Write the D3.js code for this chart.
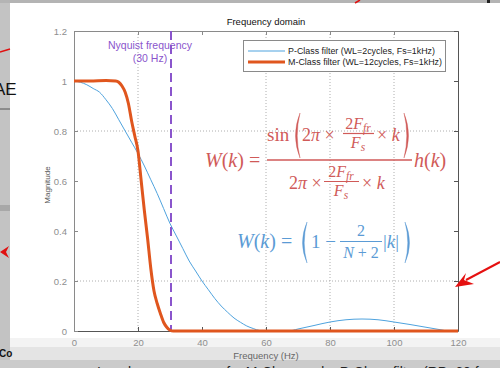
<!DOCTYPE html>
<html>
<head>
<meta charset="utf-8">
<script src="https://cdn.jsdelivr.net/npm/d3@7"></script>
<style>
  body { margin: 0; background: #cfcfcf; }
  svg { display: block; font-family: "Liberation Sans", Arial, sans-serif; }
  .eq { font-family: "Liberation Serif", "DejaVu Serif", serif; }
</style>
</head>
<body>
<div class="svg-container"></div>
<script>
var width = 500;
var height = 368;

// M-class filter (orange) magnitude response
var mFreq = [0, 5, 10, 13, 14, 15, 16, 17, 18, 19, 20, 21, 22, 23, 24, 25, 26, 27, 28, 29, 30, 31, 40, 60, 80, 100, 120];
var mMag  = [1, 1, 1.002, 1, 0.995, 0.98, 0.955, 0.91, 0.84, 0.78, 0.72, 0.6, 0.48, 0.37, 0.25, 0.16, 0.11, 0.07, 0.035, 0.015, 0.003, 0, 0, 0, 0, 0, 0];

// P-class filter (blue) magnitude response
var pFreq = [0, 2, 4, 6, 8, 10, 12, 14, 16, 18, 20, 22, 24, 26, 28, 30, 32, 34, 36, 38, 40, 42, 44, 46, 48, 50, 52, 54, 56, 58, 62, 67, 70, 75, 80, 85, 90, 95, 100, 105, 110, 115, 117, 120];
var pMag  = [1, 0.995, 0.985, 0.97, 0.955, 0.925, 0.89, 0.845, 0.8, 0.755, 0.71, 0.66, 0.605, 0.55, 0.49, 0.43, 0.38, 0.33, 0.28, 0.24, 0.2, 0.165, 0.13, 0.1, 0.075, 0.052, 0.035, 0.02, 0.01, 0.002, 0, 0, 0.008, 0.022, 0.036, 0.045, 0.048, 0.045, 0.036, 0.026, 0.015, 0.004, 0, 0];

var xTicks = [0, 20, 40, 60, 80, 100, 120];
var yTicks = [0, 0.2, 0.4, 0.6, 0.8, 1, 1.2];
var xGrid = [20, 60, 80, 100];
var yGrid = [0.2, 0.8];
var nyquist = 30;
var legendLabels = ["P-Class filter (WL=2cycles, Fs=1kHz)", "M-Class filter (WL=12cycles, Fs=1kHz)"];

var red = "#d05a58", blue = "#5b9bd5", purple = "#8a55cc";

var svg = d3.select(".svg-container")
    .append("svg")
    .attr("width", width)
    .attr("height", height);

// --- slide screenshot surroundings ---
svg.append("rect").attr("x", 0).attr("y", 0).attr("width", 10).attr("height", height).attr("fill", "#c3c3c3");
svg.append("rect").attr("x", 0).attr("y", 0).attr("width", width).attr("height", 3).attr("fill", "#b4b4b4");
svg.append("rect").attr("x", 10).attr("y", 3).attr("width", 490).attr("height", 335).attr("fill", "#ffffff");
svg.append("rect").attr("x", 10).attr("y", 338).attr("width", 490).attr("height", 9).attr("fill", "#f3f3f3");
svg.append("rect").attr("x", 10).attr("y", 347).attr("width", 490).attr("height", 13).attr("fill", "#e4e4e4");
svg.append("rect").attr("x", 0).attr("y", 360).attr("width", width).attr("height", 8).attr("fill", "#cbcbcb");
svg.append("rect").attr("x", 0).attr("y", 205).attr("width", 10).attr("height", 6).attr("fill", "#a8a8a8");
svg.append("line").attr("x1", 0).attr("x2", 10).attr("y1", 109).attr("y2", 109).attr("stroke", "#555").attr("stroke-width", 1);
svg.append("line").attr("x1", 0).attr("x2", 10).attr("y1", 52).attr("y2", 49).attr("stroke", "#e01010").attr("stroke-width", 1.5);
svg.append("path").attr("d", "M0,252 L9,246 L6,252 L9,258 Z").attr("fill", "#e01010");
svg.append("text").attr("x", -6).attr("y", 95).attr("font-size", 17).attr("fill", "#111").text("AE");
svg.append("text").attr("x", -1).attr("y", 357).attr("font-size", 10).attr("font-weight", "bold").attr("fill", "#111").text("Co");
svg.append("line").attr("x1", 355).attr("x2", 360).attr("y1", 3).attr("y2", 0).attr("stroke", "#e01010").attr("stroke-width", 1.5);
svg.append("rect").attr("x", 487).attr("y", 0).attr("width", 3).attr("height", 3).attr("fill", "#222");
svg.append("text").attr("x", 97).attr("y", 377).attr("font-size", 14).attr("fill", "#222")
    .text("Impulse responses of a M-Class and a P-Class filter (RP=60 frames/s)");

// --- scales ---
var x = d3.scaleLinear().domain([0, 120]).range([74, 458]);
var y = d3.scaleLinear().domain([0, 1.2]).range([331, 31]);

// grid
svg.selectAll(".gx").data(xGrid).enter().append("line")
    .attr("x1", function(d) { return x(d); }).attr("x2", function(d) { return x(d); })
    .attr("y1", y(1.2)).attr("y2", y(0))
    .attr("stroke", "#9a9a9a").attr("stroke-width", 0.8).attr("stroke-dasharray", "1,2");
svg.selectAll(".gy").data(yGrid).enter().append("line")
    .attr("x1", x(0)).attr("x2", x(120))
    .attr("y1", function(d) { return y(d); }).attr("y2", function(d) { return y(d); })
    .attr("stroke", "#9a9a9a").attr("stroke-width", 0.8).attr("stroke-dasharray", "1,2");

// axes
function styleAxis(g, col) {
    g.select(".domain").attr("stroke", col);
    g.selectAll(".tick line").attr("stroke", col);
    g.selectAll(".tick text").attr("fill", "#8e8e8e").attr("font-size", 9.5)
        .attr("font-family", "Liberation Sans, Arial, sans-serif");
}
svg.append("g").attr("transform", "translate(0," + y(0) + ")")
    .call(d3.axisBottom(x).tickValues(xTicks).tickSizeInner(-4).tickSizeOuter(0).tickPadding(8))
    .call(styleAxis, "#555");
svg.append("g").attr("transform", "translate(" + x(0) + ",0)")
    .call(d3.axisLeft(y).tickValues(yTicks).tickFormat(d3.format("~g")).tickSizeInner(-4).tickSizeOuter(0).tickPadding(7))
    .call(styleAxis, "#8a8a8a");
svg.append("g").attr("transform", "translate(0," + y(1.2) + ")")
    .call(d3.axisTop(x).tickValues(xTicks).tickFormat("").tickSizeInner(-4).tickSizeOuter(0))
    .call(styleAxis, "#8a8a8a");
svg.append("g").attr("transform", "translate(" + x(120) + ",0)")
    .call(d3.axisRight(y).tickValues(yTicks).tickFormat("").tickSizeInner(-4).tickSizeOuter(0))
    .call(styleAxis, "#555");

// labels
svg.append("text").attr("x", 266).attr("y", 25).attr("text-anchor", "middle")
    .attr("font-size", 9.5).attr("fill", "#111").text("Frequency domain");
svg.append("text").attr("x", 266).attr("y", 359).attr("text-anchor", "middle")
    .attr("font-size", 9.5).attr("fill", "#666").text("Frequency (Hz)");
svg.append("text").attr("transform", "rotate(270)").attr("x", -185).attr("y", 50)
    .attr("text-anchor", "middle").attr("font-size", 8).attr("fill", "#555").text("Magnitude");

// curves
var mData = mFreq.map(function(f, i) { return [f, mMag[i]]; });
var pData = pFreq.map(function(f, i) { return [f, pMag[i]]; });
var line = d3.line()
    .x(function(d) { return x(d[0]); })
    .y(function(d) { return y(d[1]); })
    .curve(d3.curveMonotoneX);

svg.append("path").datum(pData).attr("d", line)
    .attr("fill", "none").attr("stroke", "#4fa3de").attr("stroke-width", 1);

// nyquist line
svg.append("line").attr("x1", x(nyquist) + 1).attr("x2", x(nyquist) + 1)
    .attr("y1", y(1.2)).attr("y2", y(0))
    .attr("stroke", purple).attr("stroke-width", 2).attr("stroke-dasharray", "9,5");
svg.append("text").attr("x", 150).attr("y", 49).attr("text-anchor", "middle")
    .attr("font-size", 10.5).attr("fill", purple).text("Nyquist frequency");
svg.append("text").attr("x", 150).attr("y", 62).attr("text-anchor", "middle")
    .attr("font-size", 10.5).attr("fill", purple).text("(30 Hz)");

svg.append("path").datum(mData).attr("d", line)
    .attr("fill", "none").attr("stroke", "#e0561e").attr("stroke-width", 3)
    .attr("stroke-linejoin", "round");

// legend
var legend = svg.append("g");
legend.append("rect").attr("x", 243.5).attr("y", 40.5).attr("width", 202).attr("height", 31)
    .attr("fill", "#fff").attr("stroke", "#8a8a8a").attr("stroke-width", 1);
var legColors = ["#4fa3de", "#e0561e"], legWidths = [1, 3];
legendLabels.forEach(function(t, i) {
    var ly = 51 + i * 11;
    legend.append("line").attr("x1", 248).attr("x2", 285).attr("y1", ly).attr("y2", ly)
        .attr("stroke", legColors[i]).attr("stroke-width", legWidths[i]);
    legend.append("text").attr("x", 288).attr("y", ly + 3).attr("font-size", 8.5).attr("fill", "#222")
        .attr("textLength", i === 0 ? 147 : 154).attr("lengthAdjust", "spacingAndGlyphs").text(t);
});

// --- equations ---
function paren(g, xa, xb, top, bot, left, col) {
    var mid = (top + bot) / 2;
    var d = left
        ? "M" + xb + "," + top + " Q" + (xa - 2) + "," + mid + " " + xb + "," + bot + " Q" + (xa + 1.5) + "," + mid + " " + xb + "," + top + "Z"
        : "M" + xa + "," + top + " Q" + (xb + 2) + "," + mid + " " + xa + "," + bot + " Q" + (xb - 1.5) + "," + mid + " " + xa + "," + top + "Z";
    g.append("path").attr("d", d).attr("fill", col).attr("stroke", col).attr("stroke-width", 0.4);
}
function mtext(g, xx, yy, size, parts, col, anchor) {
    var t = g.append("text").attr("class", "eq").attr("x", xx).attr("y", yy)
        .attr("font-size", size).attr("fill", col).attr("text-anchor", anchor || "start");
    parts.forEach(function(p) {
        var s = t.append("tspan").text(p[0]);
        if (p[1] === "i") s.attr("font-style", "italic");
        if (p[1] === "sub") s.attr("font-style", "italic").attr("font-size", size * 0.72).attr("dy", 3);
    });
    return t;
}
function fracF(g, cx, yNum, yBar, yDen, x1, x2, size, col) {
    mtext(g, cx, yNum, size, [["2", ""], ["F", "i"], ["fr", "sub"]], col, "middle");
    g.append("line").attr("x1", x1).attr("x2", x2).attr("y1", yBar).attr("y2", yBar)
        .attr("stroke", col).attr("stroke-width", 1.2);
    mtext(g, cx, yDen, size, [["F", "i"], ["s", "sub"]], col, "middle");
}

var eqR = svg.append("g");
mtext(eqR, 205, 167, 20, [["W", "i"], ["(", ""], ["k", "i"], [") =", ""]], red);
mtext(eqR, 267, 141, 19, [["sin", ""]], red);
paren(eqR, 293, 300, 113, 158, true, red);
mtext(eqR, 302, 141, 18, [["2", ""], ["π", "i"], [" ×", ""]], red);
fracF(eqR, 358, 129, 133.5, 148, 343, 374, 16, red);
mtext(eqR, 377, 141, 18, [["× ", ""], ["k", "i"]], red);
paren(eqR, 404, 411, 113, 158, false, red);
eqR.append("line").attr("x1", 267).attr("x2", 412).attr("y1", 160).attr("y2", 160)
    .attr("stroke", red).attr("stroke-width", 1.6);
mtext(eqR, 289, 189, 18, [["2", ""], ["π", "i"], [" ×", ""]], red);
fracF(eqR, 341, 177, 181.5, 196, 324, 359, 16, red);
mtext(eqR, 362, 189, 18, [["× ", ""], ["k", "i"]], red);
mtext(eqR, 414, 167, 20, [["h", "i"], ["(", ""], ["k", "i"], [")", ""]], red);

var eqB = svg.append("g");
mtext(eqB, 237, 248, 20, [["W", "i"], ["(", ""], ["k", "i"], [") =", ""]], blue);
paren(eqB, 300, 307, 222, 263, true, blue);
mtext(eqB, 311, 248, 19, [["1 −", ""]], blue);
mtext(eqB, 361, 236, 16, [["2", ""]], blue, "middle");
eqB.append("line").attr("x1", 340).attr("x2", 382).attr("y1", 241.5).attr("y2", 241.5)
    .attr("stroke", blue).attr("stroke-width", 1.2);
mtext(eqB, 361, 258, 16, [["N", "i"], [" + 2", ""]], blue, "middle");
mtext(eqB, 383, 248, 19, [["|", ""], ["k", "i"], ["|", ""]], blue);
paren(eqB, 405, 412, 222, 263, false, blue);

// right red arrow
svg.append("line").attr("x1", 500).attr("x2", 466).attr("y1", 262).attr("y2", 280)
    .attr("stroke", "#e51010").attr("stroke-width", 2);
svg.append("path").attr("d", "M455,287 L466,273 L464,280 L474,284 Z").attr("fill", "#e51010");
</script>
</body>
</html>
